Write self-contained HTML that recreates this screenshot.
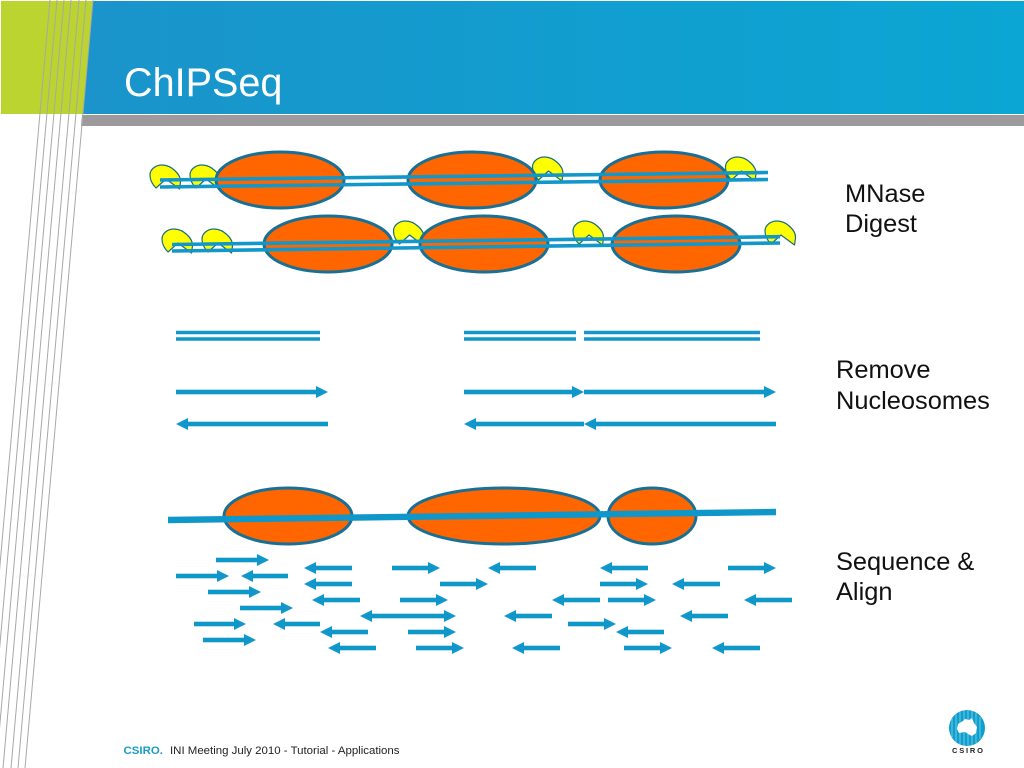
<!DOCTYPE html>
<html><head><meta charset="utf-8"><title>ChIPSeq</title>
<style>html,body{margin:0;padding:0;background:#fff;width:1024px;height:768px;overflow:hidden}svg{display:block}text{font-family:"Liberation Sans",sans-serif}</style>
</head><body>
<svg width="1024" height="768" viewBox="0 0 1024 768" xmlns="http://www.w3.org/2000/svg">
<defs>
<linearGradient id="hdr" x1="0" x2="1" y1="0" y2="0"><stop offset="0" stop-color="#1a94cb"/><stop offset="1" stop-color="#0ba6d3"/></linearGradient>
<path id="pac" d="M0,0 C-4,-4 -6,-9 -6,-13 C-6,-19 0,-23 6,-23 C15,-23 25,-14 24.5,-6 L23.5,1 L10,-9 Z" fill="#ffff00" stroke="#1a6f7a" stroke-width="1.2" stroke-linejoin="round"/>
<polygon id="ar" points="0,0 -12,-6 -12,6"/>
</defs>
<polygon points="1,1 93,1 83,114 1,114" fill="#bcd430"/>
<polygon points="93,1 1024,1 1024,114 83,114" fill="url(#hdr)"/>
<polygon points="82,115 1024,115 1024,126 81,126" fill="#9c9a9c"/>
<g stroke="#a8a8a8" stroke-width="1" fill="none">
<line x1="50" y1="0" x2="-18" y2="768"/><line x1="57" y1="0" x2="-11" y2="768"/><line x1="64" y1="0" x2="-4" y2="768"/><line x1="71" y1="0" x2="3" y2="768"/><line x1="79" y1="0" x2="11" y2="768"/><line x1="86" y1="0" x2="18" y2="768"/><line x1="93" y1="0" x2="25" y2="768"/>
</g>
<text x="124" y="96" font-size="39.6" fill="#fff">ChIPSeq</text>

<use href="#pac" x="156" y="188"/><use href="#pac" x="196" y="188"/>
<use href="#pac" x="168" y="252"/><use href="#pac" x="208" y="252"/>
<use href="#pac" x="399.5" y="244"/><use href="#pac" x="538.5" y="180"/><use href="#pac" x="579" y="244"/><use href="#pac" x="771" y="244"/>
<g fill="#ff6600" stroke="#1a6f94" stroke-width="3">
<ellipse cx="280" cy="180" rx="64" ry="28"/><ellipse cx="472" cy="180" rx="64" ry="28"/><ellipse cx="664" cy="180" rx="64" ry="28"/>
<ellipse cx="328" cy="244" rx="64" ry="28"/><ellipse cx="484" cy="244" rx="64" ry="28"/><ellipse cx="676" cy="244" rx="64" ry="28"/>
</g>
<use href="#pac" x="731.5" y="180"/>
<g stroke="#1197c9" stroke-width="3.6">
<line x1="160" y1="180" x2="768" y2="172.5"/><line x1="160" y1="187" x2="768" y2="179.5"/>
<line x1="172" y1="244.5" x2="780" y2="236.7"/><line x1="172" y1="251" x2="780" y2="243"/>
<line x1="176" y1="332.5" x2="320" y2="332.5"/><line x1="176" y1="339" x2="320" y2="339"/>
<line x1="464" y1="332.5" x2="576" y2="332.5"/><line x1="464" y1="339" x2="576" y2="339"/>
<line x1="584" y1="332.5" x2="760" y2="332.5"/><line x1="584" y1="339" x2="760" y2="339"/>
</g>
<g fill="#0f97c9">
<use href="#ar" transform="translate(328,392)"/><rect x="176" y="389.7" width="140" height="4.6"/>
<use href="#ar" transform="translate(584,392)"/><rect x="464" y="389.7" width="108" height="4.6"/>
<use href="#ar" transform="translate(776,392)"/><rect x="584" y="389.7" width="180" height="4.6"/>
<use href="#ar" transform="translate(176,424) scale(-1,1)"/><rect x="188" y="421.7" width="140" height="4.6"/>
<use href="#ar" transform="translate(464,424) scale(-1,1)"/><rect x="476" y="421.7" width="108" height="4.6"/>
<use href="#ar" transform="translate(584,424) scale(-1,1)"/><rect x="596" y="421.7" width="180" height="4.6"/>
</g>
<g fill="#ff6600" stroke="#1a6f94" stroke-width="3">
<ellipse cx="288" cy="516" rx="64" ry="28"/><ellipse cx="504" cy="516" rx="96" ry="28"/><ellipse cx="652" cy="516" rx="44" ry="28"/>
</g>
<line x1="168" y1="520" x2="776" y2="512" stroke="#0f97c9" stroke-width="6.4"/>
<g fill="#0f97c9">
<use href="#ar" transform="translate(269,560)"/><rect x="216" y="557.7" width="42" height="4.6"/>
<use href="#ar" transform="translate(229,576)"/><rect x="176" y="573.7" width="42" height="4.6"/>
<use href="#ar" transform="translate(261,592)"/><rect x="208" y="589.7" width="42" height="4.6"/>
<use href="#ar" transform="translate(293,608)"/><rect x="240" y="605.7" width="42" height="4.6"/>
<use href="#ar" transform="translate(246,624)"/><rect x="194" y="621.7" width="42" height="4.6"/>
<use href="#ar" transform="translate(256,640)"/><rect x="203" y="637.7" width="42" height="4.6"/>
<use href="#ar" transform="translate(440,568)"/><rect x="392" y="565.7" width="38" height="4.6"/>
<use href="#ar" transform="translate(488,584)"/><rect x="440" y="581.7" width="38" height="4.6"/>
<use href="#ar" transform="translate(448,600)"/><rect x="400" y="597.7" width="38" height="4.6"/>
<use href="#ar" transform="translate(456,616)"/><rect x="408" y="613.7" width="38" height="4.6"/>
<use href="#ar" transform="translate(456,632)"/><rect x="408" y="629.7" width="38" height="4.6"/>
<use href="#ar" transform="translate(464,648)"/><rect x="416" y="645.7" width="38" height="4.6"/>
<use href="#ar" transform="translate(776,568)"/><rect x="728" y="565.7" width="38" height="4.6"/>
<use href="#ar" transform="translate(648,584)"/><rect x="600" y="581.7" width="38" height="4.6"/>
<use href="#ar" transform="translate(656,600)"/><rect x="608" y="597.7" width="38" height="4.6"/>
<use href="#ar" transform="translate(616,624)"/><rect x="568" y="621.7" width="38" height="4.6"/>
<use href="#ar" transform="translate(672,648)"/><rect x="624" y="645.7" width="38" height="4.6"/>
<use href="#ar" transform="translate(241,576) scale(-1,1)"/><rect x="250" y="573.7" width="38" height="4.6"/>
<use href="#ar" transform="translate(273,624) scale(-1,1)"/><rect x="282" y="621.7" width="38" height="4.6"/>
<use href="#ar" transform="translate(304,568) scale(-1,1)"/><rect x="314" y="565.7" width="38" height="4.6"/>
<use href="#ar" transform="translate(304,584) scale(-1,1)"/><rect x="314" y="581.7" width="38" height="4.6"/>
<use href="#ar" transform="translate(312,600) scale(-1,1)"/><rect x="322" y="597.7" width="38" height="4.6"/>
<use href="#ar" transform="translate(360,616) scale(-1,1)"/><rect x="370" y="613.7" width="38" height="4.6"/>
<use href="#ar" transform="translate(320,632) scale(-1,1)"/><rect x="330" y="629.7" width="38" height="4.6"/>
<use href="#ar" transform="translate(328,648) scale(-1,1)"/><rect x="338" y="645.7" width="38" height="4.6"/>
<use href="#ar" transform="translate(488,568) scale(-1,1)"/><rect x="498" y="565.7" width="38" height="4.6"/>
<use href="#ar" transform="translate(600,568) scale(-1,1)"/><rect x="610" y="565.7" width="38" height="4.6"/>
<use href="#ar" transform="translate(672,584) scale(-1,1)"/><rect x="682" y="581.7" width="38" height="4.6"/>
<use href="#ar" transform="translate(552,600) scale(-1,1)"/><rect x="562" y="597.7" width="38" height="4.6"/>
<use href="#ar" transform="translate(744,600) scale(-1,1)"/><rect x="754" y="597.7" width="38" height="4.6"/>
<use href="#ar" transform="translate(504,616) scale(-1,1)"/><rect x="514" y="613.7" width="38" height="4.6"/>
<use href="#ar" transform="translate(680,616) scale(-1,1)"/><rect x="690" y="613.7" width="38" height="4.6"/>
<use href="#ar" transform="translate(616,632) scale(-1,1)"/><rect x="626" y="629.7" width="38" height="4.6"/>
<use href="#ar" transform="translate(512,648) scale(-1,1)"/><rect x="522" y="645.7" width="38" height="4.6"/>
<use href="#ar" transform="translate(712,648) scale(-1,1)"/><rect x="722" y="645.7" width="38" height="4.6"/>
</g>
<g font-size="25.4" fill="#111">
<text x="845" y="202">MNase</text><text x="845" y="232">Digest</text>
<text x="836" y="378">Remove</text><text x="836" y="409">Nucleosomes</text>
<text x="836" y="570">Sequence &amp;</text><text x="836" y="600">Align</text>
</g>
<text x="123.5" y="754" font-size="11.45" font-weight="bold" fill="#1a9cc4">CSIRO.</text>
<text x="170" y="754" font-size="11.45" fill="#222">INI Meeting July 2010 - Tutorial - Applications</text>
<circle cx="967" cy="728" r="18" fill="#0f9fcf"/>
<path d="M957,729 L958,724 L963,721 L965,719 L969,720 L972,718 L974,723 L977,727 L976,733 L972,736 L968,734 L965,732 L959,733 Z" fill="#fff"/>
<g stroke="#fff" stroke-width="0.7" opacity=".6">
<line x1="952" y1="718" x2="952" y2="738"/><line x1="956" y1="714" x2="956" y2="742"/><line x1="960" y1="711" x2="960" y2="745"/><line x1="964" y1="710" x2="964" y2="746"/><line x1="968" y1="710" x2="968" y2="746"/><line x1="972" y1="711" x2="972" y2="745"/><line x1="976" y1="713" x2="976" y2="743"/><line x1="980" y1="717" x2="980" y2="739"/>
</g>
<text x="952" y="753" font-size="7.5" font-weight="bold" fill="#222" letter-spacing="1.8">CSIRO</text>
</svg>
</body></html>
